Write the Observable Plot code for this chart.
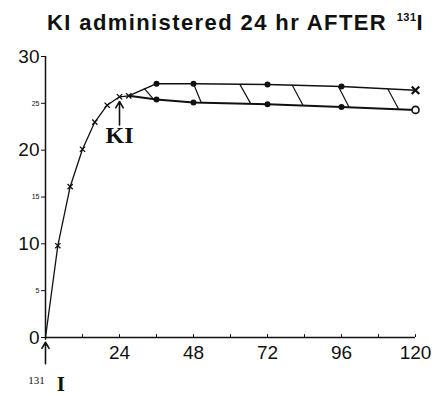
<!DOCTYPE html>
<html><head><meta charset="utf-8">
<script src="https://cdn.jsdelivr.net/npm/d3@7"></script>
<script src="https://cdn.jsdelivr.net/npm/@observablehq/plot@0.6"></script>
<style>
body{margin:0;background:#fff;width:434px;height:397px;overflow:hidden}
#title{height:40px;font-family:"Liberation Sans",Arial,sans-serif;font-weight:bold;font-size:22px;letter-spacing:1.4px;white-space:nowrap;overflow:hidden;padding-left:47px;padding-top:11px;box-sizing:border-box;line-height:24px;color:#111}
#title sup{font-size:11px;vertical-align:0;position:relative;top:-9px;letter-spacing:0.5px;margin-left:2px}
#chart svg{display:block}
</style></head><body>
<div id="title">KI administered 24 hr AFTER <sup>131</sup>I</div>
<div id="chart"></div>
<script>
// uptake curve before divergence (hours, % uptake)
const riseHours = [0, 4, 8, 12, 16, 20, 24, 27];
const riseValues = [0, 9.8, 16.1, 20.1, 23.0, 24.8, 25.7, 25.8];
// upper branch
const upperHours = [27, 36, 48, 72, 96, 120];
const upperValues = [25.8, 27.1, 27.1, 27.0, 26.8, 26.4];
// lower branch (KI given)
const lowerHours = [27, 36, 48, 72, 96, 120];
const lowerValues = [25.8, 25.4, 25.1, 24.9, 24.6, 24.3];
// hatching between the branches
const hatchTopHours = [32, 48, 63, 80, 95, 111];
const hatchTopValues = [26.6, 27.1, 27.05, 26.95, 26.8, 26.55];
const hatchBottomHours = [35, 50.5, 66.5, 83.5, 98.5, 114.5];
const hatchBottomValues = [25.45, 25.1, 25.0, 24.8, 24.55, 24.4];
// ticks
const yMajorTicks = [0, 10, 20, 30];
const yMinorTicks = [5, 15, 25];
const xMinorTicks = [12, 24, 36, 48, 60, 72, 84, 96, 108, 120];
const xTickLabels = [24, 48, 72, 96, 120];
// annotations
const kiArrow = [{x: 24, y1: 22.7, y2: 25.2}];
const kiLabel = [{x: 24, y: 21.6, text: "KI"}];
const isoArrow = [{x: 0, y1: -2.8, y2: -0.5}];
const isoMass = [{x: -2.9, y: -4.6, text: "131"}];
const isoSymbol = [{x: 5.0, y: -5.0, text: "I"}];

const rise = riseHours.map((h, i) => ({h, v: riseValues[i]}));
const upper = upperHours.map((h, i) => ({h, v: upperValues[i]}));
const lower = lowerHours.map((h, i) => ({h, v: lowerValues[i]}));
const hatch = hatchTopHours.map((h, i) => ({x1: h, y1: hatchTopValues[i], x2: hatchBottomHours[i], y2: hatchBottomValues[i]}));
const ink = "#111";

const plot = Plot.plot({
  width: 434, height: 357,
  marginLeft: 45, marginRight: 19, marginTop: 16, marginBottom: 60,
  x: {domain: [0, 120]},
  y: {domain: [0, 30]},
  style: {background: "#fff", color: ink, fontFamily: "Liberation Sans, Arial, sans-serif"},
  marks: [
    Plot.axisY(yMajorTicks, {tickSize: 4, tickPadding: 2, fontSize: 19, label: null}),
    Plot.axisY(yMinorTicks, {tickSize: 4, tickPadding: 2, fontSize: 7, label: null}),
    Plot.axisX(xTickLabels, {tickSize: 0, tickPadding: 8, fontSize: 19, label: null}),
    Plot.ruleX(xMinorTicks, {y1: 0, y2: 0.3, stroke: ink}),
    Plot.ruleX([0], {y1: -0.3, y2: 30, stroke: ink, strokeWidth: 1.5}),
    Plot.ruleY([0], {x1: 0, x2: 120, stroke: ink, strokeWidth: 1.5}),
    Plot.link(hatch, {x1: "x1", y1: "y1", x2: "x2", y2: "y2", stroke: ink, strokeWidth: 1.2}),
    Plot.line(rise, {x: "h", y: "v", stroke: ink, strokeWidth: 1.3}),
    Plot.line(upper, {x: "h", y: "v", stroke: ink, strokeWidth: 1.5}),
    Plot.line(lower, {x: "h", y: "v", stroke: ink, strokeWidth: 2}),
    Plot.dot(rise.slice(1), {x: "h", y: "v", symbol: "times", r: 2.5, stroke: ink, strokeWidth: 1.3}),
    Plot.dot(upper.slice(1, -1), {x: "h", y: "v", r: 3, fill: ink}),
    Plot.dot(lower.slice(1, -1), {x: "h", y: "v", r: 3, fill: ink}),
    Plot.dot(upper.slice(-1), {x: "h", y: "v", symbol: "times", r: 3.5, stroke: ink, strokeWidth: 2.2}),
    Plot.dot(lower.slice(-1), {x: "h", y: "v", r: 3.5, stroke: ink, strokeWidth: 1.6, fill: "#fff"}),
    Plot.arrow(kiArrow, {x1: "x", x2: "x", y1: "y1", y2: "y2", stroke: ink, strokeWidth: 1.6, headLength: 7}),
    Plot.text(kiLabel, {x: "x", y: "y", text: "text", fontSize: 24, fontWeight: "bold", fontFamily: "Liberation Serif, Times New Roman, serif", fill: ink}),
    Plot.arrow(isoArrow, {x1: "x", x2: "x", y1: "y1", y2: "y2", stroke: ink, strokeWidth: 1.6, headLength: 7}),
    Plot.text(isoMass, {x: "x", y: "y", text: "text", fontSize: 11, fontFamily: "Liberation Serif, Times New Roman, serif", fill: ink}),
    Plot.text(isoSymbol, {x: "x", y: "y", text: "text", fontSize: 21, fontWeight: "bold", fontFamily: "Liberation Serif, Times New Roman, serif", fill: ink})
  ]
});
document.getElementById("chart").appendChild(plot);
</script>
</body></html>
